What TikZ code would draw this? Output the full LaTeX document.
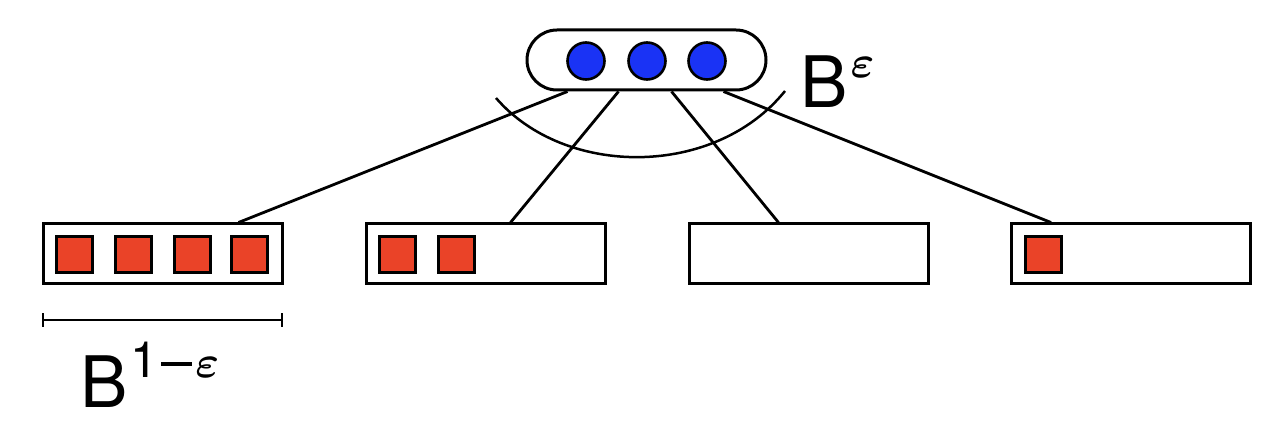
\documentclass[tikz,border=0pt]{standalone}
\usepackage{graphicx}
\usepackage{fontspec}
\setmainfont{TeX Gyre Heros}
\definecolor{dotblue}{RGB}{26,51,245}
\definecolor{sqred}{RGB}{234,67,40}
\newcommand{\bigeps}{\scalebox{4.5}{\normalsize\boldmath$\varepsilon$}}
\begin{document}
\begin{tikzpicture}[x=1pt,y=-1pt,
  pill/.style={draw,line width=3pt,rounded corners=30pt,minimum width=239pt,minimum height=60pt,inner sep=0pt},
  dot/.style={circle,draw,line width=2.6pt,fill=dotblue,minimum size=37pt,inner sep=0pt},
  bucket/.style={draw,line width=3pt,minimum width=239pt,minimum height=60pt,inner sep=0pt,fill=white},
  sq/.style={draw,line width=3pt,fill=sqred,minimum size=36pt,inner sep=0pt},
  conn/.style={line width=2.8pt},
  lbl/.style={inner sep=0pt,font=\fontsize{71}{80}\selectfont}]
\useasboundingbox (0,0) rectangle (1286,438);
% top node
\node[pill] (top) at (646.5,60) {};
\node[dot] (c1) at (586,61) {};
\node[dot] (c2) at (647,61) {};
\node[dot] (c3) at (707,61) {};
% buckets
\node[bucket] (b1) at (162.5,254) {};
\node[bucket] (b2) at (485.5,254) {};
\node[bucket] (b3) at (808.5,254) {};
\node[bucket] (b4) at (1131,254) {};
% squares
\node[sq] (s11) at (74.5,254.5) {};
\node[sq] (s12) at (133,254.5) {};
\node[sq] (s13) at (192,254.5) {};
\node[sq] (s14) at (249.5,254.5) {};
\node[sq] (s21) at (397.5,254.5) {};
\node[sq] (s22) at (456.5,254.5) {};
\node[sq] (s41) at (1043.5,254.5) {};
% connectors
\draw[conn] ([xshift=42pt]top.south west) -- ([xshift=197pt]b1.north west);
\draw[conn] ([xshift=93pt]top.south west) -- ([xshift=146pt]b2.north west);
\draw[conn] ([xshift=146pt]top.south west) -- ([xshift=91pt]b3.north west);
\draw[conn] ([xshift=198pt]top.south west) -- ([xshift=41pt]b4.north west);
% arc
\draw[line width=2.5pt] (496,98) .. controls (565,178) and (715,178) .. (785,91);
% labels
\node[lbl,anchor=base west] (eps) at (800,108) {B\kern3pt\raisebox{30pt}{\bigeps}};
% scale bar
\coordinate (bl) at (43,320);
\coordinate (br) at (282,320);
\draw[line width=2.8pt] (bl) -- (br);
\draw[line width=2.8pt] ([yshift=-7pt]bl) -- ([yshift=7pt]bl);
\draw[line width=2.8pt] ([yshift=-7pt]br) -- ([yshift=7pt]br);
\node[lbl,anchor=base west] (size) at (80,407) {B\kern3pt\raisebox{30pt}{\fontsize{50}{58}\selectfont 1\kern3pt\rule[11pt]{31pt}{3.6pt}\kern3pt\bigeps}};
\end{tikzpicture}
\end{document}
